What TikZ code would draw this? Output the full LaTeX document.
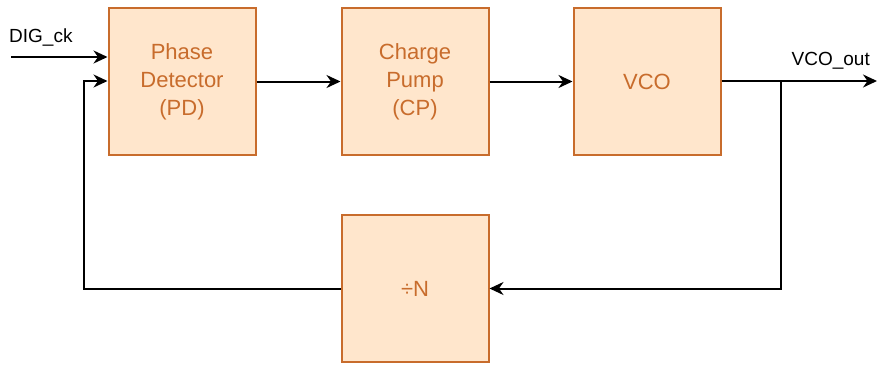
\documentclass[tikz,border=0pt]{standalone}
\usepackage{fontspec}
\setmainfont{Liberation Sans}
\usetikzlibrary{arrows.meta}
\definecolor{boxfill}{RGB}{255,230,204}
\definecolor{boxdraw}{RGB}{200,108,44}
\begin{document}
\begin{tikzpicture}[x=1pt,y=1pt,
  blk/.style={draw=boxdraw,fill=boxfill,line width=2pt,minimum width=147pt,minimum height=147pt,
    text=boxdraw,font=\fontsize{22}{28}\selectfont,align=center,inner sep=0pt},
  wire/.style={line width=2pt,black,line join=miter},
  arr/.style={wire,-{Stealth[length=14pt,width=13pt,inset=4.5pt]}},
  lbl/.style={font=\fontsize{19}{22}\selectfont,inner sep=0pt}]
\useasboundingbox (0,0) rectangle (877,-364);
\node[blk] (pd) at (182,-81.5) {Phase\\Detector\\(PD)};
\node[blk] (cp) at (415,-81.5) {Charge\\Pump\\(CP)};
\node[blk] (vco) at (647,-81.5) {VCO};
\node[blk] (div) at (415,-288.5) {÷N};
\coordinate (inL) at (11,-57);
\coordinate (outR) at (877,-81);
\coordinate (tap) at (781,-81);
\coordinate (fbT) at (84,-81);
\coordinate (fbB) at (fbT |- div.west);
\draw[arr] (inL) -- (inL -| pd.west);
\draw[arr] (pd.east |- cp.west) -- (cp.west);
\draw[arr] (cp.east) -- (vco.west);
\draw[arr] (vco.east |- outR) -- (outR);
\draw[arr] (tap) |- (div.east);
\draw[arr] (div.west) -- (fbB) -- (fbT) -- (pd.west |- fbT);
\node[lbl,anchor=south west] (dig) at (9,-46) {DIG\_ck};
\node[lbl,anchor=south east] (vout) at (870,-69) {VCO\_out};
\end{tikzpicture}
\end{document}
